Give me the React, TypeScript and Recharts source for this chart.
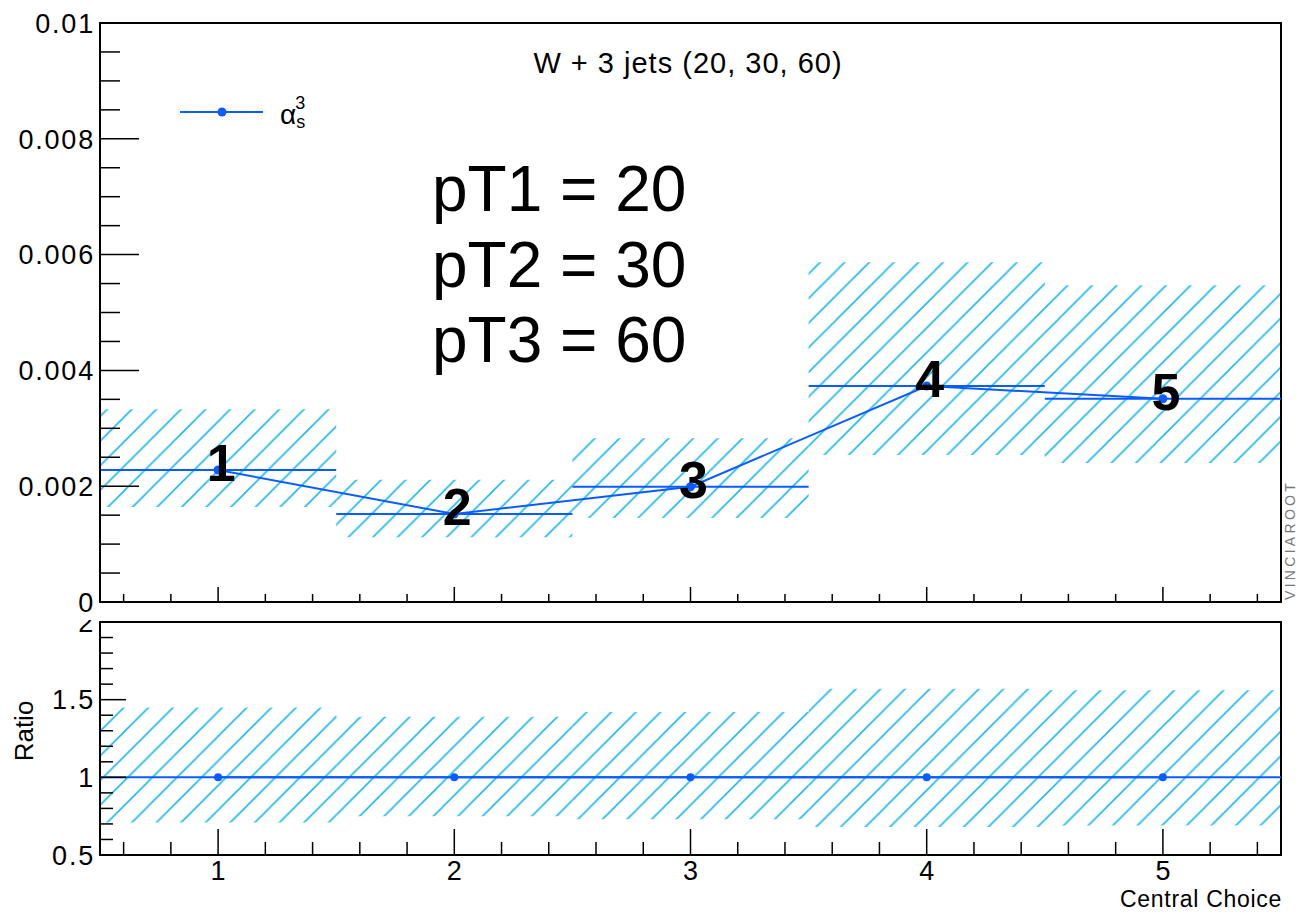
import React from "react";
import {
  ComposedChart,
  LabelList,
  Line,
  ReferenceArea,
  ReferenceLine,
  XAxis,
  YAxis,
} from "recharts";

// central choice bins
const bins = [1, 2, 3, 4, 5];
const binLabels = ["1", "2", "3", "4", "5"];

// top pad: alpha_s^3 weight, with hatched uncertainty band
const central = [0.00228, 0.00152, 0.00199, 0.00373, 0.00351];
const bandHi = [0.00333, 0.00211, 0.00283, 0.00587, 0.00547];
const bandLo = [0.00164, 0.00112, 0.00145, 0.00254, 0.0024];

// bottom pad: ratio to central
const ratio = [1, 1, 1, 1, 1];
const ratioHi = [1.45, 1.39, 1.42, 1.57, 1.56];
const ratioLo = [0.71, 0.75, 0.73, 0.68, 0.69];

const xTicks = [
  0.6, 0.8, 1, 1.2, 1.4, 1.6, 1.8, 2, 2.2, 2.4, 2.6, 2.8, 3, 3.2, 3.4, 3.6, 3.8, 4, 4.2,
  4.4, 4.6, 4.8, 5, 5.2, 5.4,
];
const yTicks = [
  0, 0.0005, 0.001, 0.0015, 0.002, 0.0025, 0.003, 0.0035, 0.004, 0.0045, 0.005, 0.0055,
  0.006, 0.0065, 0.007, 0.0075, 0.008, 0.0085, 0.009, 0.0095, 0.01,
];
const yLabels = [0, 0.002, 0.004, 0.006, 0.008, 0.01];
const ratioTicks = [0.5, 0.6, 0.7, 0.8, 0.9, 1, 1.1, 1.2, 1.3, 1.4, 1.5, 1.6, 1.7, 1.8, 1.9, 2];
const ratioLabels = [0.5, 1, 1.5, 2];

const BLUE = "#0a5cff";
const HATCH = "#1cb9ef";
const FONT = "'Liberation Sans', Arial, Helvetica, sans-serif";

const topData = bins.map((b, i) => ({ x: b, v: central[i], label: binLabels[i] }));
const ratioData = bins.map((b, i) => ({ x: b, r: ratio[i] }));

function Hatch({ id }: { id: string }) {
  const s = 24.6;
  return (
    <defs>
      <pattern id={id} patternUnits="userSpaceOnUse" width={s} height={s}>
        <path
          d={`M0,${s} L${s},0 M${-s / 4},${s / 4} L${s / 4},${-s / 4} M${(3 * s) / 4},${(5 * s) / 4} L${(5 * s) / 4},${(3 * s) / 4}`}
          stroke={HATCH}
          strokeWidth={1.6}
        />
      </pattern>
    </defs>
  );
}

function xTick(long: number, short: number, showLabel: boolean) {
  return (p: any) => {
    const v = p.payload.value as number;
    const major = Number.isInteger(v);
    return (
      <g>
        <line x1={p.x} x2={p.x} y1={p.y} y2={p.y - (major ? long : short)} stroke="#000" strokeWidth={1.5} />
        {showLabel && major && (
          <text x={p.x} y={p.y + 25} textAnchor="middle" fontSize={27} fontFamily={FONT} fill="#000">
            {v}
          </text>
        )}
      </g>
    );
  };
}

function yTick(labels: number[], long: number, short: number) {
  return (p: any) => {
    const v = p.payload.value as number;
    const major = labels.includes(v);
    return (
      <g>
        <line x1={p.x} x2={p.x + (major ? long : short)} y1={p.y} y2={p.y} stroke="#000" strokeWidth={1.5} />
        {major && (
          <text
            x={p.x - 5}
            y={p.y}
            dy="0.36em"
            textAnchor="end"
            fontSize={27}
            letterSpacing={1.8}
            fontFamily={FONT}
            fill="#000"
          >
            {v === 0 ? "0" : String(v)}
          </text>
        )}
      </g>
    );
  };
}

const binNumber = (p: any) => (
  <text
    x={p.x + 3}
    y={p.y + 11}
    textAnchor="middle"
    fontSize={52}
    fontWeight="bold"
    fontFamily={FONT}
    fill="#000"
  >
    {p.value}
  </text>
);

export default function App() {
  return (
    <div style={{ position: "absolute", left: 0, top: 0, width: 1297, height: 914, background: "#fff" }}>
      <div style={{ position: "absolute", left: 0, top: 0, zIndex: 2, background: "#fff", height: 620 }}>
        <ComposedChart width={1297} height={620} data={topData} margin={{ top: 23, right: 16, bottom: 10, left: 0 }}>
          <Hatch id="hatchTop" />
          {bins.map((b, i) => (
            <ReferenceArea
              key={"band" + b}
              x1={b - 0.5}
              x2={b + 0.5}
              y1={bandLo[i]}
              y2={bandHi[i]}
              fill="url(#hatchTop)"
              fillOpacity={1}
              stroke="none"
            />
          ))}
          <XAxis
            type="number"
            dataKey="x"
            domain={[0.5, 5.5]}
            ticks={xTicks}
            interval={0}
            height={8}
            tickSize={0}
            tickMargin={0}
            tickLine={false}
            axisLine={{ stroke: "#000", strokeWidth: 2 }}
            tick={xTick(15, 8, false)}
          />
          <YAxis
            type="number"
            domain={[0, 0.01]}
            ticks={yTicks}
            interval={0}
            width={100}
            tickSize={0}
            tickMargin={0}
            tickLine={false}
            axisLine={{ stroke: "#000", strokeWidth: 2 }}
            tick={yTick(yLabels, 39, 20)}
          />
          {bins.map((b, i) => (
            <ReferenceLine
              key={"seg" + b}
              segment={[
                { x: b - 0.5, y: central[i] },
                { x: b + 0.5, y: central[i] },
              ]}
              stroke={BLUE}
              strokeWidth={2}
            />
          ))}
          <ReferenceArea x1={0.5} x2={5.5} y1={0} y2={0.01} fill="none" stroke="#000" strokeWidth={2} />
          <Line
            dataKey="v"
            stroke={BLUE}
            strokeWidth={2}
            dot={{ r: 4.5, fill: BLUE, stroke: BLUE, strokeWidth: 0 }}
            isAnimationActive={false}
          >
            <LabelList dataKey="label" content={binNumber} />
          </Line>
        </ComposedChart>
      </div>

      <div style={{ position: "absolute", left: 0, top: 610, zIndex: 1 }}>
        <ComposedChart width={1297} height={304} data={ratioData} margin={{ top: 12, right: 16, bottom: 9, left: 0 }}>
          <Hatch id="hatchBot" />
          {bins.map((b, i) => (
            <ReferenceArea
              key={"rband" + b}
              x1={b - 0.5}
              x2={b + 0.5}
              y1={ratioLo[i]}
              y2={ratioHi[i]}
              fill="url(#hatchBot)"
              fillOpacity={1}
              stroke="none"
            />
          ))}
          <XAxis
            type="number"
            dataKey="x"
            domain={[0.5, 5.5]}
            ticks={xTicks}
            interval={0}
            height={50}
            tickSize={0}
            tickMargin={0}
            tickLine={false}
            axisLine={{ stroke: "#000", strokeWidth: 2 }}
            tick={xTick(26, 13, true)}
          />
          <YAxis
            type="number"
            domain={[0.5, 2]}
            ticks={ratioTicks}
            interval={0}
            width={100}
            tickSize={0}
            tickMargin={0}
            tickLine={false}
            axisLine={{ stroke: "#000", strokeWidth: 2 }}
            tick={yTick(ratioLabels, 26, 13)}
          />
          {bins.map((b, i) => (
            <ReferenceLine
              key={"rseg" + b}
              segment={[
                { x: b - 0.5, y: ratio[i] },
                { x: b + 0.5, y: ratio[i] },
              ]}
              stroke={BLUE}
              strokeWidth={2}
            />
          ))}
          <ReferenceArea x1={0.5} x2={5.5} y1={0.5} y2={2} fill="none" stroke="#000" strokeWidth={2} />
          <Line
            dataKey="r"
            stroke={BLUE}
            strokeWidth={2}
            dot={{ r: 4, fill: BLUE, stroke: BLUE, strokeWidth: 0 }}
            isAnimationActive={false}
          />
        </ComposedChart>
      </div>

      <svg
        width={1297}
        height={914}
        style={{ position: "absolute", left: 0, top: 0, zIndex: 3, pointerEvents: "none" }}
        fontFamily={FONT}
      >
        <text x={688} y={73} textAnchor="middle" fontSize={29} letterSpacing={1} fill="#000">
          W + 3 jets (20, 30, 60)
        </text>
        <text x={432} y={211} fontSize={64} fill="#000">pT1 = 20</text>
        <text x={432} y={287} fontSize={64} fill="#000">pT2 = 30</text>
        <text x={432} y={362} fontSize={64} fill="#000">pT3 = 60</text>

        <line x1={180} x2={263} y1={112} y2={112} stroke={BLUE} strokeWidth={2} />
        <circle cx={222} cy={112} r={4.5} fill={BLUE} />
        <text x={280} y={124} fontSize={28} fill="#000">
          α<tspan fontSize={18} dy={4}>s</tspan>
          <tspan fontSize={18} dx={-10} dy={-19}>3</tspan>
        </text>

        <text x={1295} y={600} fontSize={14} fill="#777" letterSpacing={3.3} transform="rotate(-90 1295 600)">
          VINCIAROOT
        </text>
        <text x={33} y={731} fontSize={26} textAnchor="middle" fill="#000" transform="rotate(-90 33 731)">
          Ratio
        </text>
        <text x={1282} y={907} fontSize={23} letterSpacing={0.7} textAnchor="end" fill="#000">
          Central Choice
        </text>
      </svg>
    </div>
  );
}
